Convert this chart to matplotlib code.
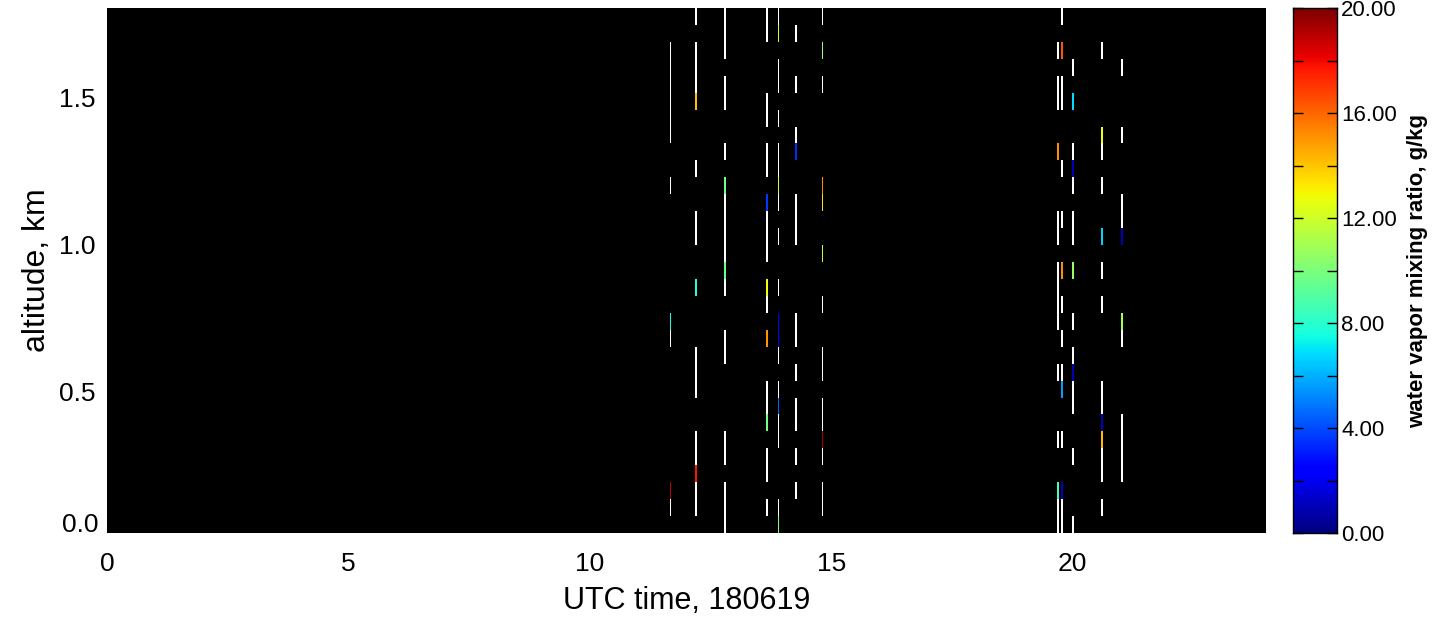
import numpy as np
import matplotlib
matplotlib.use("Agg")
import matplotlib.pyplot as plt
from matplotlib.colors import ListedColormap, Normalize
from matplotlib.ticker import FixedLocator

plt.rcParams['font.family'] = ['Liberation Sans', 'DejaVu Sans']

# ---------------- data ----------------
# profile times (UTC hours) and their durations (hours)
times = [11.68, 12.20, 12.81, 13.68, 13.91, 14.28, 14.82, 19.69, 19.79, 20.00, 20.60, 21.03]
durations = [0.021, 0.041, 0.041, 0.041, 0.021, 0.041, 0.041, 0.041, 0.041, 0.041, 0.041, 0.041]

# vertical grid: level index -> altitude (km)
z0_km = 0.0492
dz_km = 0.0576
n_levels = 31

# flagged (white) levels per profile
flag_levels = [
    [1, 11, 20, 23, 24, 25, 26, 27, 28],
    [1, 2, 4, 5, 8, 9, 10, 17, 18, 21, 26, 27, 28, 30],
    [0, 1, 2, 4, 5, 10, 11, 14, 16, 17, 18, 19, 22, 25, 26, 28, 29, 30],
    [1, 3, 4, 7, 8, 13, 16, 17, 18, 21, 22, 24, 25, 29, 30],
    [1, 5, 6, 8, 10, 14, 17, 19, 21, 22, 24, 26, 27, 30],
    [2, 4, 6, 7, 9, 11, 12, 17, 18, 19, 23, 26, 29],
    [1, 2, 4, 6, 7, 9, 10, 13, 26, 30],
    [0, 1, 5, 9, 12, 13, 14, 15, 17, 18, 25, 26, 28],
    [0, 1, 5, 9, 11, 13, 18, 21, 25, 26, 30],
    [0, 4, 7, 8, 10, 12, 17, 18, 20, 22, 27],
    [1, 3, 4, 7, 8, 13, 15, 20, 22, 28],
    [3, 4, 5, 6, 11, 18, 19, 23, 27],
]

# levels with valid mixing ratio and their values (g/kg)
value_levels = [
    [2, 12],
    [3, 14, 25],
    [15, 20],
    [6, 11, 14, 19],
    [0, 7, 11, 12, 20, 29],
    [22],
    [5, 16, 19, 20, 28],
    [2, 22],
    [2, 8, 15, 28],
    [9, 15, 21, 25],
    [5, 6, 17, 23],
    [12, 17],
]
mixing_ratio = [
    [19.0, 7.5],
    [17.8, 7.8, 14.0],
    [9.6, 9.6],
    [9.7, 15.0, 12.8, 3.6],
    [10.0, 4.5, 2.5, 2.5, 12.3, 12.3],
    [3.4],
    [19.2, 11.6, 13.4, 15.2, 10.4],
    [8.6, 15.2],
    [1.2, 5.6, 15.2, 16.4],
    [1.0, 10.6, 1.0, 6.8],
    [14.2, 1.0, 6.6, 12.8],
    [11.0, 1.0],
]

xticks = [0, 5, 10, 15, 20]
yticks = [0.5, 1.0, 1.5]
cbar_ticks = [0, 4, 8, 12, 16, 20]
cbar_minor = [2, 6, 10, 14, 18]
vmin, vmax = 0.0, 20.0

# ---------------- figure ----------------
W, H = 1442, 617
fig = plt.figure(figsize=(W / 100, H / 100), dpi=100)
ax = fig.add_axes([107 / W, (H - 533) / H, (1265.7 - 107) / W, 525 / H])
ax.set_facecolor('black')

cmap = plt.get_cmap('jet')
norm = Normalize(vmin=vmin, vmax=vmax)
white_cmap = ListedColormap(['white'])

y_edges = z0_km + (np.arange(n_levels + 1) - 0.5) * dz_km
for t, d, fl, vl, mv in zip(times, durations, flag_levels, value_levels, mixing_ratio):
    x_edges = np.array([t - d / 2, t + d / 2])
    flag = np.full((n_levels, 1), np.nan)
    flag[fl, 0] = 1.0
    vals = np.full((n_levels, 1), np.nan)
    vals[vl, 0] = mv
    ax.pcolormesh(x_edges, y_edges, np.ma.masked_invalid(flag), cmap=white_cmap,
                  vmin=0, vmax=1, antialiased=False, linewidth=0)
    ax.pcolormesh(x_edges, y_edges, np.ma.masked_invalid(vals), cmap=cmap, norm=norm,
                  antialiased=False, linewidth=0)

ax.set_xlim(0, 24)
ax.set_ylim(y_edges[0], y_edges[-1])
ax.set_xticks(xticks)
ax.set_xticklabels([str(v) for v in xticks])
ax.set_yticks(yticks)
ax.set_yticklabels(['%.1f' % v for v in yticks])
ax.tick_params(axis='both', length=0, labelsize=19)
ax.tick_params(axis='x', pad=14)
ax.tick_params(axis='y', pad=8)
# bottom-of-range label as drawn by the original plotting software
ax.annotate('0.0', xy=(0, y_edges[0]), xycoords=('axes fraction', 'data'),
            xytext=(-8, 8), textcoords='offset pixels', ha='right', va='center',
            fontsize=19)
for s in ax.spines.values():
    s.set_visible(False)
ax.set_xlabel('UTC time, 180619', fontsize=22, labelpad=7)
ax.set_ylabel('altitude, km', fontsize=23, labelpad=5)

# ---------------- colorbar ----------------
cax = fig.add_axes([1293 / W, (H - 533) / H, 44 / W, 525 / H])
grad = np.linspace(vmin, vmax, 256).reshape(-1, 1)
cax.imshow(grad, aspect='auto', cmap=cmap, norm=norm, origin='lower',
           extent=[0, 1, vmin, vmax], interpolation='bilinear')
cax.set_xlim(0, 1)
cax.set_ylim(vmin, vmax)
cax.set_xticks([])
cax.yaxis.set_major_locator(FixedLocator(cbar_ticks))
cax.yaxis.set_minor_locator(FixedLocator(cbar_minor))
cax.set_yticklabels(['%.2f' % v for v in cbar_ticks])
cax.yaxis.tick_right()
cax.tick_params(axis='y', which='both', direction='in', left=True, right=True,
                length=7, width=1, color='black', labelsize=16, pad=3)
for s in cax.spines.values():
    s.set_linewidth(1)
cax.yaxis.set_label_position('right')
cax.set_ylabel('water vapor mixing ratio, g/kg', fontsize=16, labelpad=7,
               fontweight='bold')

fig.savefig('out.png', dpi=100)
